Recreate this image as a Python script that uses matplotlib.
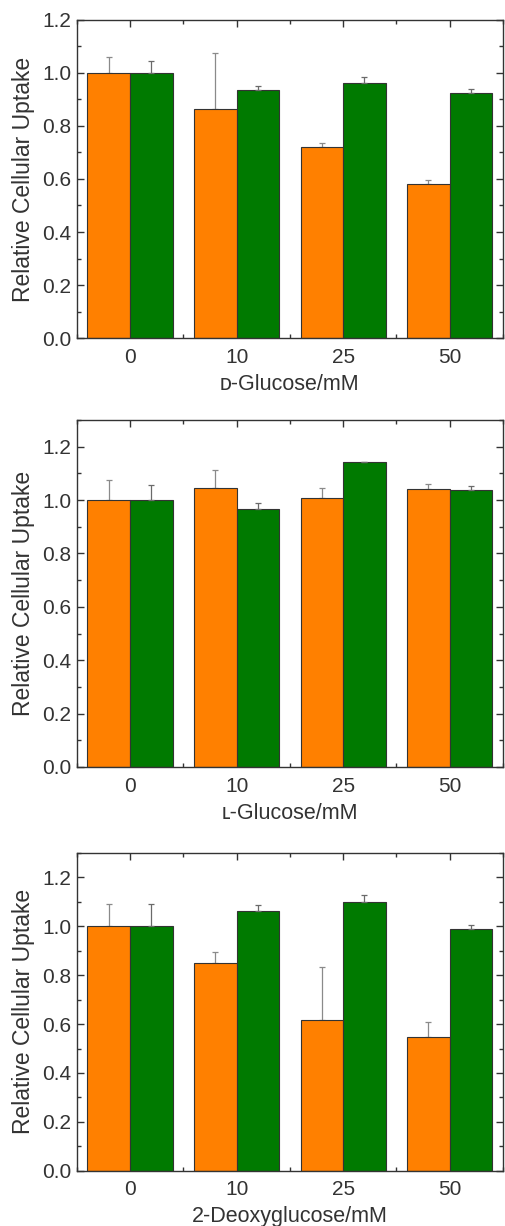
import numpy as np
import matplotlib
matplotlib.use("Agg")
import matplotlib.pyplot as plt
from matplotlib.ticker import MultipleLocator

plt.rcParams['font.family'] = ['Liberation Sans', 'DejaVu Sans']

concentrations = ['0', '10', '25', '50']

# D-glucose
d_orange = [1.0, 0.864, 0.722, 0.583]
d_orange_err = [0.059, 0.213, 0.012, 0.013]
d_green = [1.0, 0.936, 0.963, 0.924]
d_green_err = [0.044, 0.015, 0.021, 0.016]

# L-glucose
l_orange = [1.0, 1.044, 1.006, 1.043]
l_orange_err = [0.075, 0.070, 0.040, 0.019]
l_green = [1.0, 0.966, 1.141, 1.038]
l_green_err = [0.056, 0.022, 0.003, 0.015]

# 2-deoxyglucose
dg_orange = [1.0, 0.849, 0.616, 0.549]
dg_orange_err = [0.093, 0.045, 0.218, 0.060]
dg_green = [1.0, 1.064, 1.101, 0.990]
dg_green_err = [0.093, 0.025, 0.028, 0.014]

panels = [
    (d_orange, d_orange_err, d_green, d_green_err, 'ᴅ-Glucose/mM', 1.2),
    (l_orange, l_orange_err, l_green, l_green_err, 'ʟ-Glucose/mM', 1.3),
    (dg_orange, dg_orange_err, dg_green, dg_green_err, '2-Deoxyglucose/mM', 1.3),
]

# axes rectangles in figure fractions [left, bottom, width, height]
rects = [
    [0.152, 0.7243, 0.844, 0.2594],
    [0.152, 0.3744, 0.844, 0.2830],
    [0.152, 0.0451, 0.844, 0.2591],
]

fig = plt.figure(figsize=(5.05, 12.26), dpi=100)
x = np.arange(len(concentrations))
w = 0.4

for (o, oe, g, ge, xlabel, ymax), rect in zip(panels, rects):
    ax = fig.add_axes(rect)
    ax.bar(x - w / 2, o, w, color='#ff8000', edgecolor='#333333', linewidth=0.8, zorder=2)
    ax.bar(x + w / 2, g, w, color='#007a00', edgecolor='#333333', linewidth=0.8, zorder=2)
    ax.errorbar(x - w / 2, o, yerr=[np.zeros(4), oe], fmt='none', ecolor='#8a8a8a',
                elinewidth=0.9, capsize=2, capthick=0.9, zorder=1)
    ax.errorbar(x + w / 2, g, yerr=[np.zeros(4), ge], fmt='none', ecolor='#6a6a6a',
                elinewidth=0.9, capsize=2, capthick=0.9, zorder=3)
    ax.set_xlim(-0.5, 3.5)
    ax.set_ylim(0, ymax)
    ax.set_xticks(x)
    ax.set_xticklabels(concentrations)
    ax.xaxis.set_minor_locator(MultipleLocator(0.5))
    ax.yaxis.set_major_locator(MultipleLocator(0.2))
    ax.yaxis.set_minor_locator(MultipleLocator(0.1))
    ax.yaxis.set_major_formatter(matplotlib.ticker.FormatStrFormatter('%.1f'))
    ax.tick_params(which='both', direction='in', top=True, right=True,
                   labelsize=15, color='#333333', labelcolor='#333333')
    ax.tick_params(which='major', length=5, width=1)
    ax.tick_params(which='minor', length=3, width=1)
    ax.tick_params(axis='x', pad=7)
    ax.tick_params(axis='y', pad=4)
    for s in ax.spines.values():
        s.set_color('#333333')
        s.set_linewidth(1.0)
    ax.set_ylabel('Relative Cellular Uptake', fontsize=16.5, color='#333333', labelpad=5)
    ax.set_xlabel(xlabel, fontsize=15.5, color='#333333', labelpad=5)

fig.savefig('out.png', dpi=100)
